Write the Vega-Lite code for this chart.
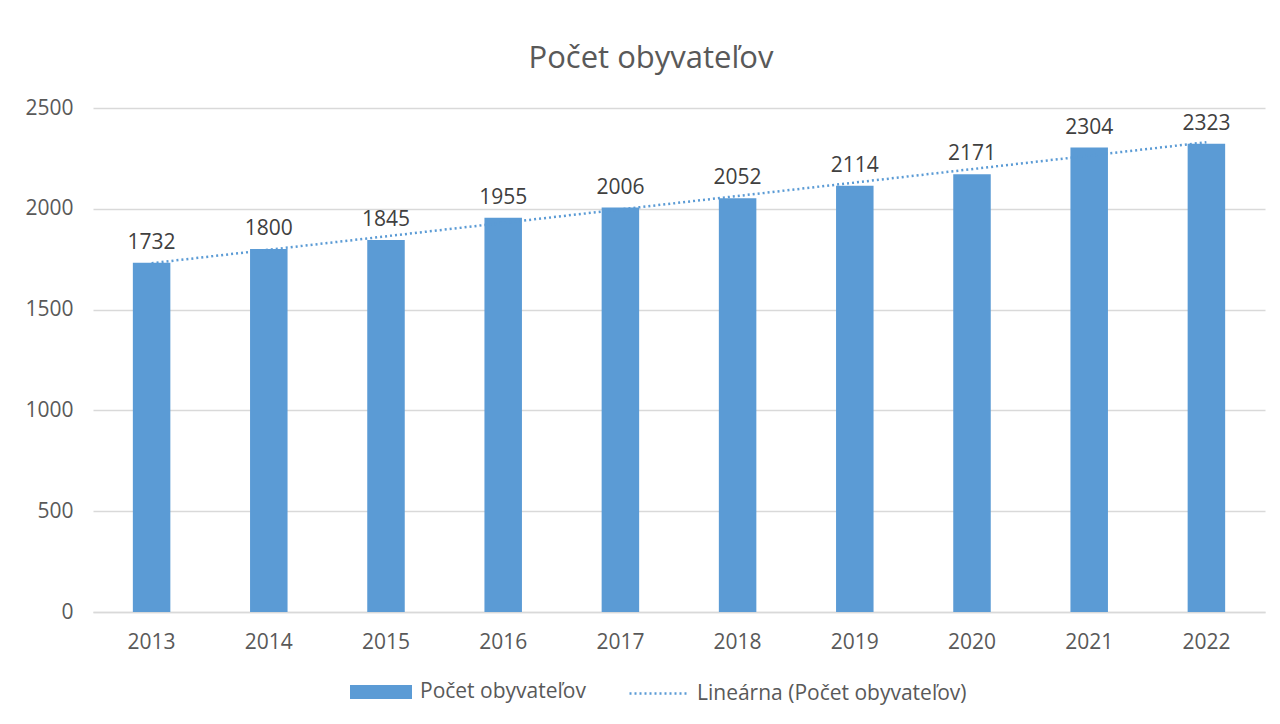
{
  "$schema": "https://vega.github.io/schema/vega-lite/v6.json",
  "width": 1172,
  "height": 504,
  "autosize": "none",
  "padding": {"left": 93, "top": 108, "right": 15, "bottom": 112},
  "background": "white",
  "config": {"view": {"stroke": null}, "font": "Open Sans"},
  "title": {"text": "Počet obyvateľov", "fontSize": 31, "font": "Open Sans", "fontWeight": "normal", "color": "#595959", "offset": 22, "dx": -28},
  "data": {"values": [
    {"rok": 2013, "pocet": 1732},
    {"rok": 2014, "pocet": 1800},
    {"rok": 2015, "pocet": 1845},
    {"rok": 2016, "pocet": 1955},
    {"rok": 2017, "pocet": 2006},
    {"rok": 2018, "pocet": 2052},
    {"rok": 2019, "pocet": 2114},
    {"rok": 2020, "pocet": 2171},
    {"rok": 2021, "pocet": 2304},
    {"rok": 2022, "pocet": 2323}
  ]},
  "encoding": {
    "x": {"field": "rok", "type": "ordinal", "scale": {"paddingInner": 0.68, "paddingOuter": 0.34},
      "axis": {"title": null, "labelAngle": 0, "labelFontSize": 21, "labelColor": "#595959", "labelFont": "Open Sans", "ticks": false, "domainColor": "#d9d9d9", "domainWidth": 1.5, "labelPadding": 19}},
    "y": {"field": "pocet", "type": "quantitative", "scale": {"domain": [0, 2500]},
      "axis": {"title": null, "values": [0, 500, 1000, 1500, 2000, 2500], "format": "d", "grid": true, "gridColor": "#d9d9d9", "gridWidth": 1.5, "domain": false, "ticks": false, "labelPadding": 20, "labelFontSize": 21, "labelColor": "#595959", "labelFont": "Open Sans"}}
  },
  "layer": [
    {
      "mark": {"type": "bar", "color": "#5B9BD5"},
      "encoding": {
        "color": {"datum": "Počet obyvateľov", "type": "nominal",
          "scale": {"domain": ["Počet obyvateľov"], "range": ["#5B9BD5"]},
          "legend": {"title": null, "orient": "none", "legendX": 257, "legendY": 553,
            "symbolType": "M-1,-0.225h2v0.45h-2Z", "symbolSize": 3844, "symbolStrokeWidth": 0, "symbolOpacity": 1,
            "labelFontSize": 21, "labelColor": "#595959", "labelFont": "Open Sans", "labelLimit": 400, "labelOffset": 8}
        }
      }
    },
    {
      "mark": {"type": "text", "baseline": "bottom", "dy": -10, "fontSize": 21, "color": "#404040", "font": "Open Sans"},
      "encoding": {"text": {"field": "pocet", "type": "quantitative"}}
    },
    {
      "transform": [{"regression": "pocet", "on": "rok"}],
      "mark": {"type": "line", "strokeWidth": 2.5, "color": "#5B9BD5"},
      "encoding": {
        "strokeDash": {"datum": "Lineárna (Počet obyvateľov)", "type": "nominal",
          "scale": {"domain": ["Lineárna (Počet obyvateľov)"], "range": [[2, 3]]},
          "legend": {"title": null, "orient": "none", "legendX": 535, "legendY": 554,
            "symbolType": "stroke", "symbolSize": 3600, "symbolStrokeWidth": 2.5, "symbolStrokeColor": "#5B9BD5", "symbolOpacity": 1,
            "labelFontSize": 21, "labelColor": "#595959", "labelFont": "Open Sans", "labelLimit": 400, "labelOffset": 6}
        }
      }
    }
  ]
}
